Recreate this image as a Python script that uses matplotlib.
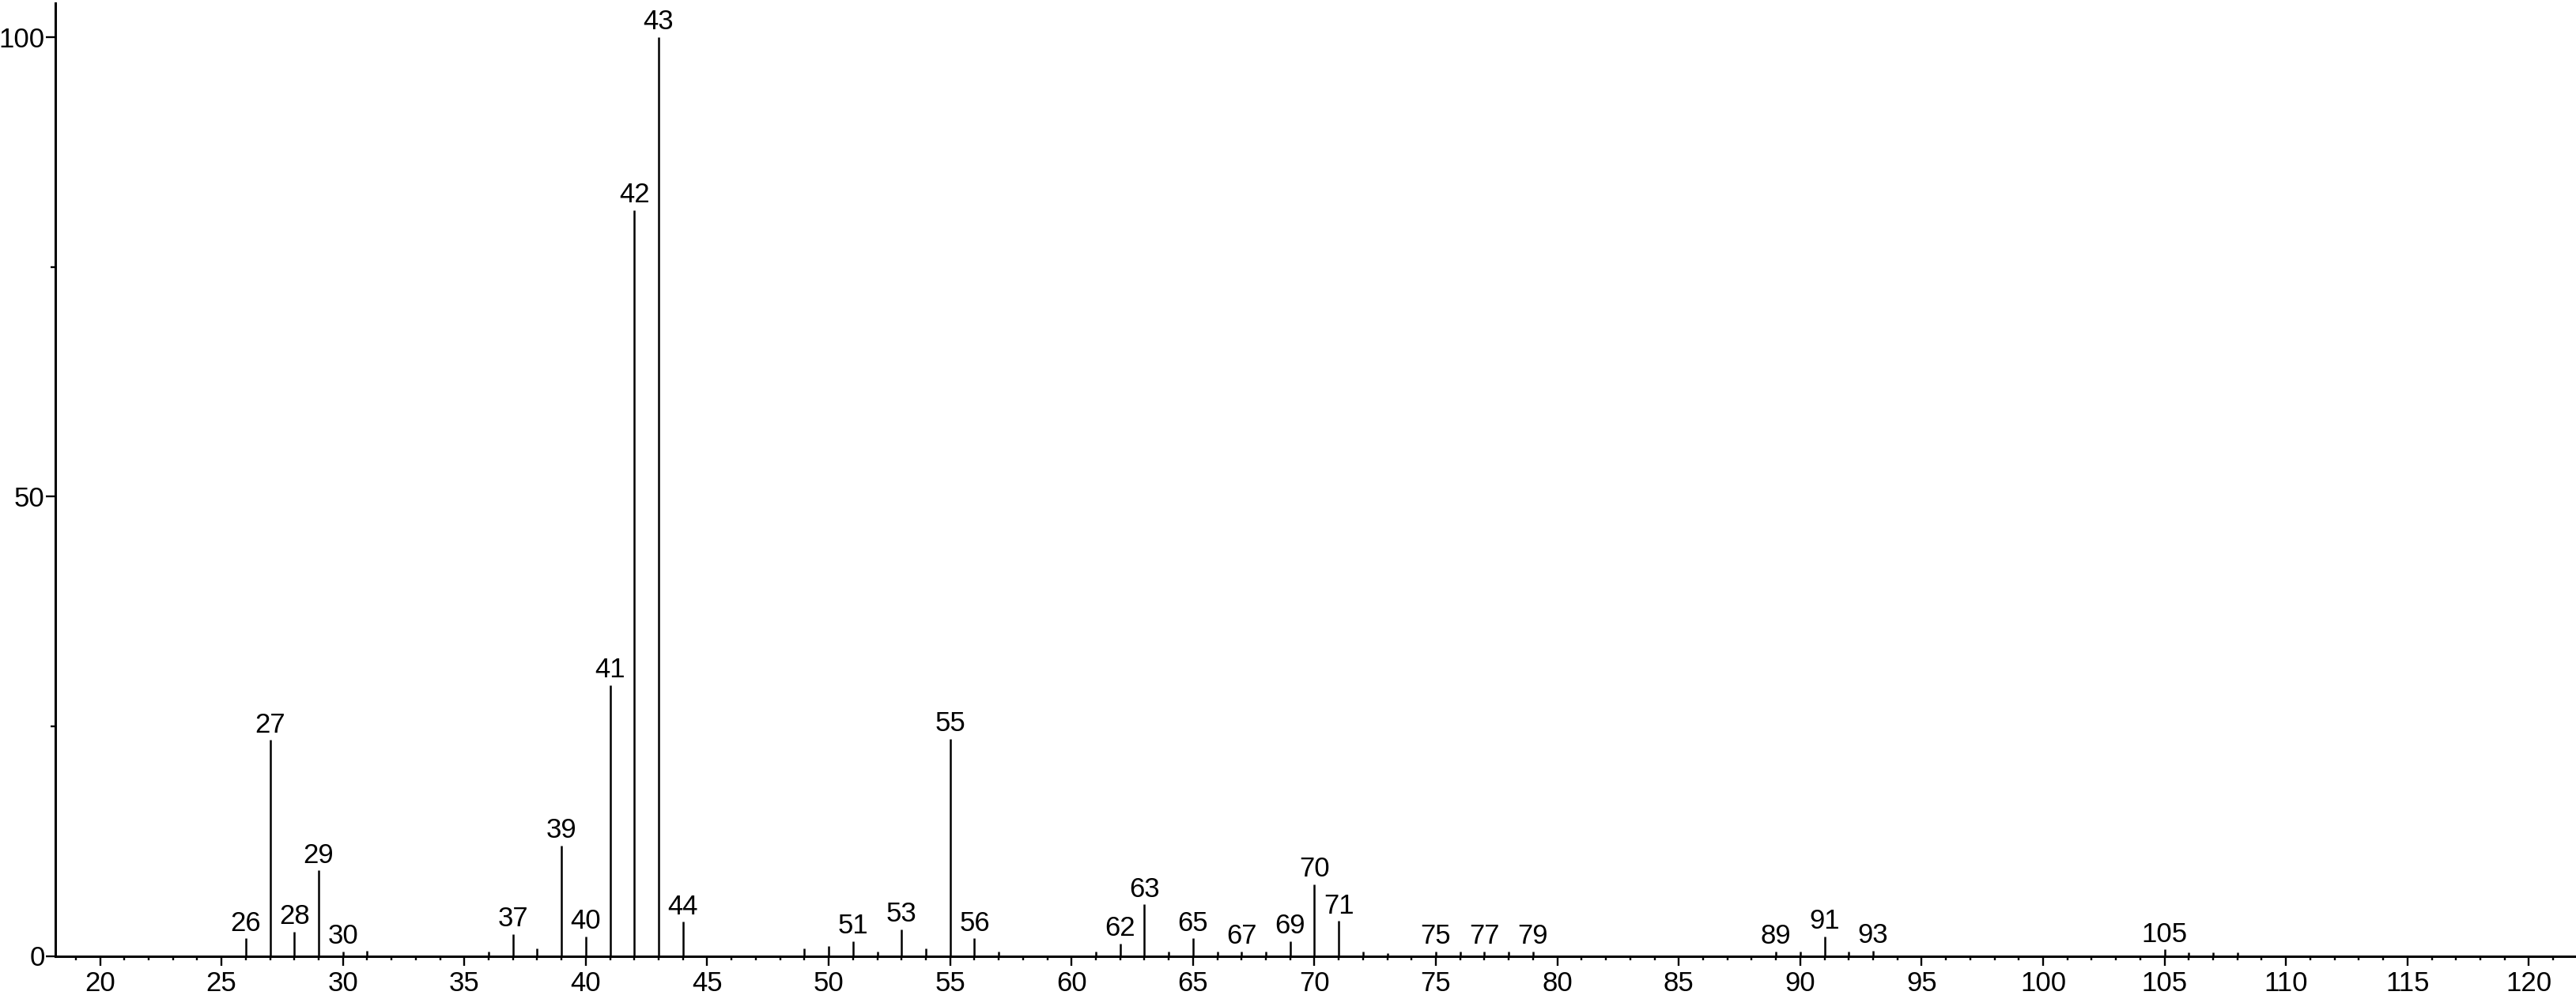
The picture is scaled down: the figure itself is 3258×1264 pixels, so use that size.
import matplotlib
matplotlib.use("Agg")
import matplotlib.pyplot as plt
from matplotlib.ticker import MultipleLocator, FixedLocator
from matplotlib import font_manager

# ---- data ----
mz = [26, 27, 28, 29, 30, 31, 36, 37, 38, 39, 40, 41, 42, 43, 44,
      49, 50, 51, 52, 53, 54, 55, 56, 57, 61, 62, 63, 64, 65, 66,
      67, 68, 69, 70, 71, 72, 73, 75, 76, 77, 78, 79, 89, 90, 91,
      92, 93, 105, 106, 107, 108]
intensity = [1.9, 23.5, 2.6, 9.3, 0.5, 0.6, 0.5, 2.4, 0.8, 12.0, 2.1, 29.5, 81.2, 100.0, 3.7,
             0.8, 1.1, 1.6, 0.5, 2.9, 0.8, 23.6, 1.9, 0.5, 0.5, 1.35, 5.6, 0.5, 1.9, 0.5,
             0.5, 0.5, 1.6, 7.8, 3.8, 0.5, 0.3, 0.45, 0.45, 0.45, 0.45, 0.45, 0.45, 0.45, 2.1,
             0.5, 0.6, 0.7, 0.4, 0.4, 0.4]
labeled = [26, 27, 28, 29, 30, 37, 39, 40, 41, 42, 43, 44, 51, 53, 55, 56,
           62, 63, 65, 67, 69, 70, 71, 75, 77, 79, 89, 91, 93, 105]
x_major_ticks = list(range(20, 121, 5))
y_major_ticks = [0, 50, 100]
y_minor_ticks = [25, 75]

names = {f.name for f in font_manager.fontManager.ttflist}
family = "Liberation Sans" if "Liberation Sans" in names else "DejaVu Sans"
plt.rcParams["font.family"] = [family, "DejaVu Sans"]

W, H = 3258, 1264
fig = plt.figure(figsize=(W / 100, H / 100), dpi=100)
left_px, zero_px, top_px = 70, 1209.5, 4.3
ax = fig.add_axes([left_px / W, (H - zero_px) / H, 1 - left_px / W, (zero_px - top_px) / H])

ax.vlines(mz, 0, intensity, colors="black", linewidth=1.8)
lookup = dict(zip(mz, intensity))
FS = 25
for m in labeled:
    ax.annotate(str(m), (m, lookup[m]), xytext=(0, 2), textcoords="offset points",
                ha="center", va="bottom", fontsize=FS, color="black", annotation_clip=False)

ax.set_xlim(18.16, 121.94)
ax.set_ylim(0, (zero_px - top_px) / 11.625)

for s in ("top", "right"):
    ax.spines[s].set_visible(False)
ax.spines["left"].set_linewidth(2.2)
ax.spines["bottom"].set_linewidth(2.2)

ax.xaxis.set_major_locator(FixedLocator(x_major_ticks))
ax.xaxis.set_minor_locator(MultipleLocator(1))
ax.yaxis.set_major_locator(FixedLocator(y_major_ticks))
ax.yaxis.set_minor_locator(FixedLocator(y_minor_ticks))

ax.tick_params(axis="x", which="major", direction="out", length=8.6, width=1.7,
               labelsize=FS, pad=5)
ax.tick_params(axis="x", which="minor", direction="out", length=3.6, width=1.7)
ax.tick_params(axis="y", which="major", direction="out", length=8.6, width=1.7,
               labelsize=FS, pad=1)
ax.tick_params(axis="y", which="minor", direction="out", length=4.5, width=1.7)
ax.set_xticklabels([str(t) for t in x_major_ticks])
ax.set_yticklabels([str(t) for t in y_major_ticks])

fig.savefig("out.png", dpi=100, facecolor="white")
